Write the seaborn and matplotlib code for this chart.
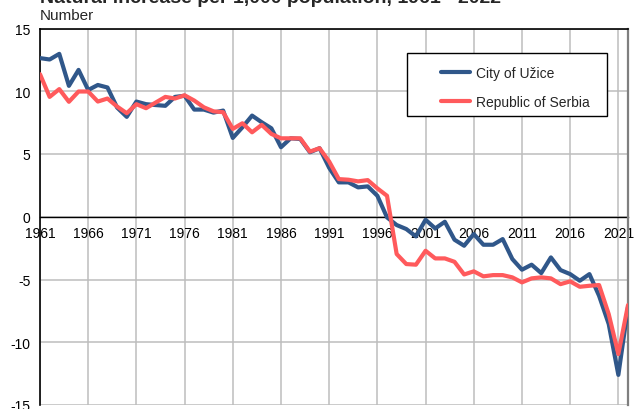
import matplotlib
matplotlib.use("Agg")
import matplotlib.pyplot as plt
from matplotlib.patches import Rectangle
from matplotlib.lines import Line2D
import seaborn as sns
import pandas as pd

years = list(range(1961, 2023))
uzice = [12.64, 12.53, 12.98, 10.43, 11.7, 10.1, 10.5, 10.3, 8.7, 7.96,
         9.18, 8.97, 8.9, 8.84, 9.55, 9.64, 8.54, 8.54, 8.3, 8.46,
         6.28, 7.13, 8.06, 7.53, 7.05, 5.54, 6.25, 6.2, 5.14, 5.46,
         3.9, 2.74, 2.74, 2.34, 2.42, 1.67, -0.05, -0.66, -0.98, -1.57,
         -0.24, -0.93, -0.4, -1.83, -2.31, -1.38, -2.23, -2.23, -1.78, -3.37,
         -4.22, -3.82, -4.49, -3.24, -4.25, -4.57, -5.1, -4.57, -6.3, -8.55,
         -12.6, -7.2]
serbia = [11.36, 9.55, 10.17, 9.16, 9.98, 9.98, 9.18, 9.42, 8.78, 8.25,
          8.97, 8.65, 9.1, 9.55, 9.42, 9.68, 9.26, 8.72, 8.4, 8.33,
          7.0, 7.45, 6.73, 7.32, 6.6, 6.25, 6.25, 6.25, 5.19, 5.46,
          4.4, 3.0, 2.95, 2.82, 2.92, 2.26, 1.67, -2.97, -3.77, -3.82,
          -2.71, -3.32, -3.32, -3.59, -4.6, -4.35, -4.75, -4.65, -4.65, -4.83,
          -5.23, -4.91, -4.83, -4.91, -5.37, -5.15, -5.58, -5.5, -5.44, -7.76,
          -10.94, -7.04]
series_names = ["City of Užice", "Republic of Serbia"]
colors = ["#30578A", "#FF5A5C"]
x_ticks = list(range(1961, 2022, 5))
y_ticks = [-15, -10, -5, 0, 5, 10, 15]
title = "Natural increase per 1,000 population, 1961 - 2022"
unit = "Number"

df = pd.DataFrame({
    "year": years * 2,
    "value": uzice + serbia,
    "series": [series_names[0]] * len(years) + [series_names[1]] * len(years),
})

sns.set_style("white")
plt.rcParams["font.family"] = ["Liberation Sans", "DejaVu Sans"]
plt.rcParams["axes.unicode_minus"] = False

fig = plt.figure(figsize=(6.41, 4.10), dpi=100)
ax = fig.add_axes([40 / 641, 4 / 410, 588 / 641, 376.5 / 410])

sns.lineplot(data=df, x="year", y="value", hue="series", hue_order=series_names,
             palette=colors, linewidth=3, ax=ax, legend=False, zorder=3)

ax.set_xlim(1961, 2022)
ax.set_ylim(-15, 15)
ax.set_xticks(x_ticks)
ax.set_yticks(y_ticks)
ax.set_xlabel("")
ax.set_ylabel("")
ax.grid(True, color="#BDBDBD", linewidth=1.1, zorder=0)
ax.set_axisbelow(True)

ax.spines["bottom"].set_position(("data", 0))
ax.spines["bottom"].set_color("black")
ax.spines["bottom"].set_linewidth(1.0)
ax.spines["bottom"].set_zorder(2)
for s in ["left", "top"]:
    ax.spines[s].set_color("black")
    ax.spines[s].set_linewidth(1.2)
ax.spines["right"].set_color("#7F7F7F")
ax.spines["right"].set_linewidth(1.6)

ax.tick_params(axis="x", length=0, pad=7, labelsize=10, colors="black")
ax.tick_params(axis="y", length=0, pad=7, labelsize=10, colors="black")

# legend frame
ax.add_patch(Rectangle((0.624, 0.768), 0.340, 0.167, transform=ax.transAxes,
                       facecolor="white", edgecolor="black", linewidth=1.0, zorder=4))
handles = [Line2D([0], [0], color=c, linewidth=3) for c in colors]
leg = ax.legend(handles, series_names, loc="upper left", bbox_to_anchor=(0.670, 0.918),
                frameon=False, borderpad=0, handlelength=2.1, handletextpad=0.45,
                labelspacing=1.05, fontsize=10)
leg.set_zorder(5)

fig.text(40 / 641, 1 - 3.0 / 410, title, fontsize=14, fontweight="bold",
         ha="left", va="baseline")
fig.text(40 / 641, 1 - 19.5 / 410, unit, fontsize=11, ha="left", va="baseline")

fig.savefig("out.png", dpi=100)
